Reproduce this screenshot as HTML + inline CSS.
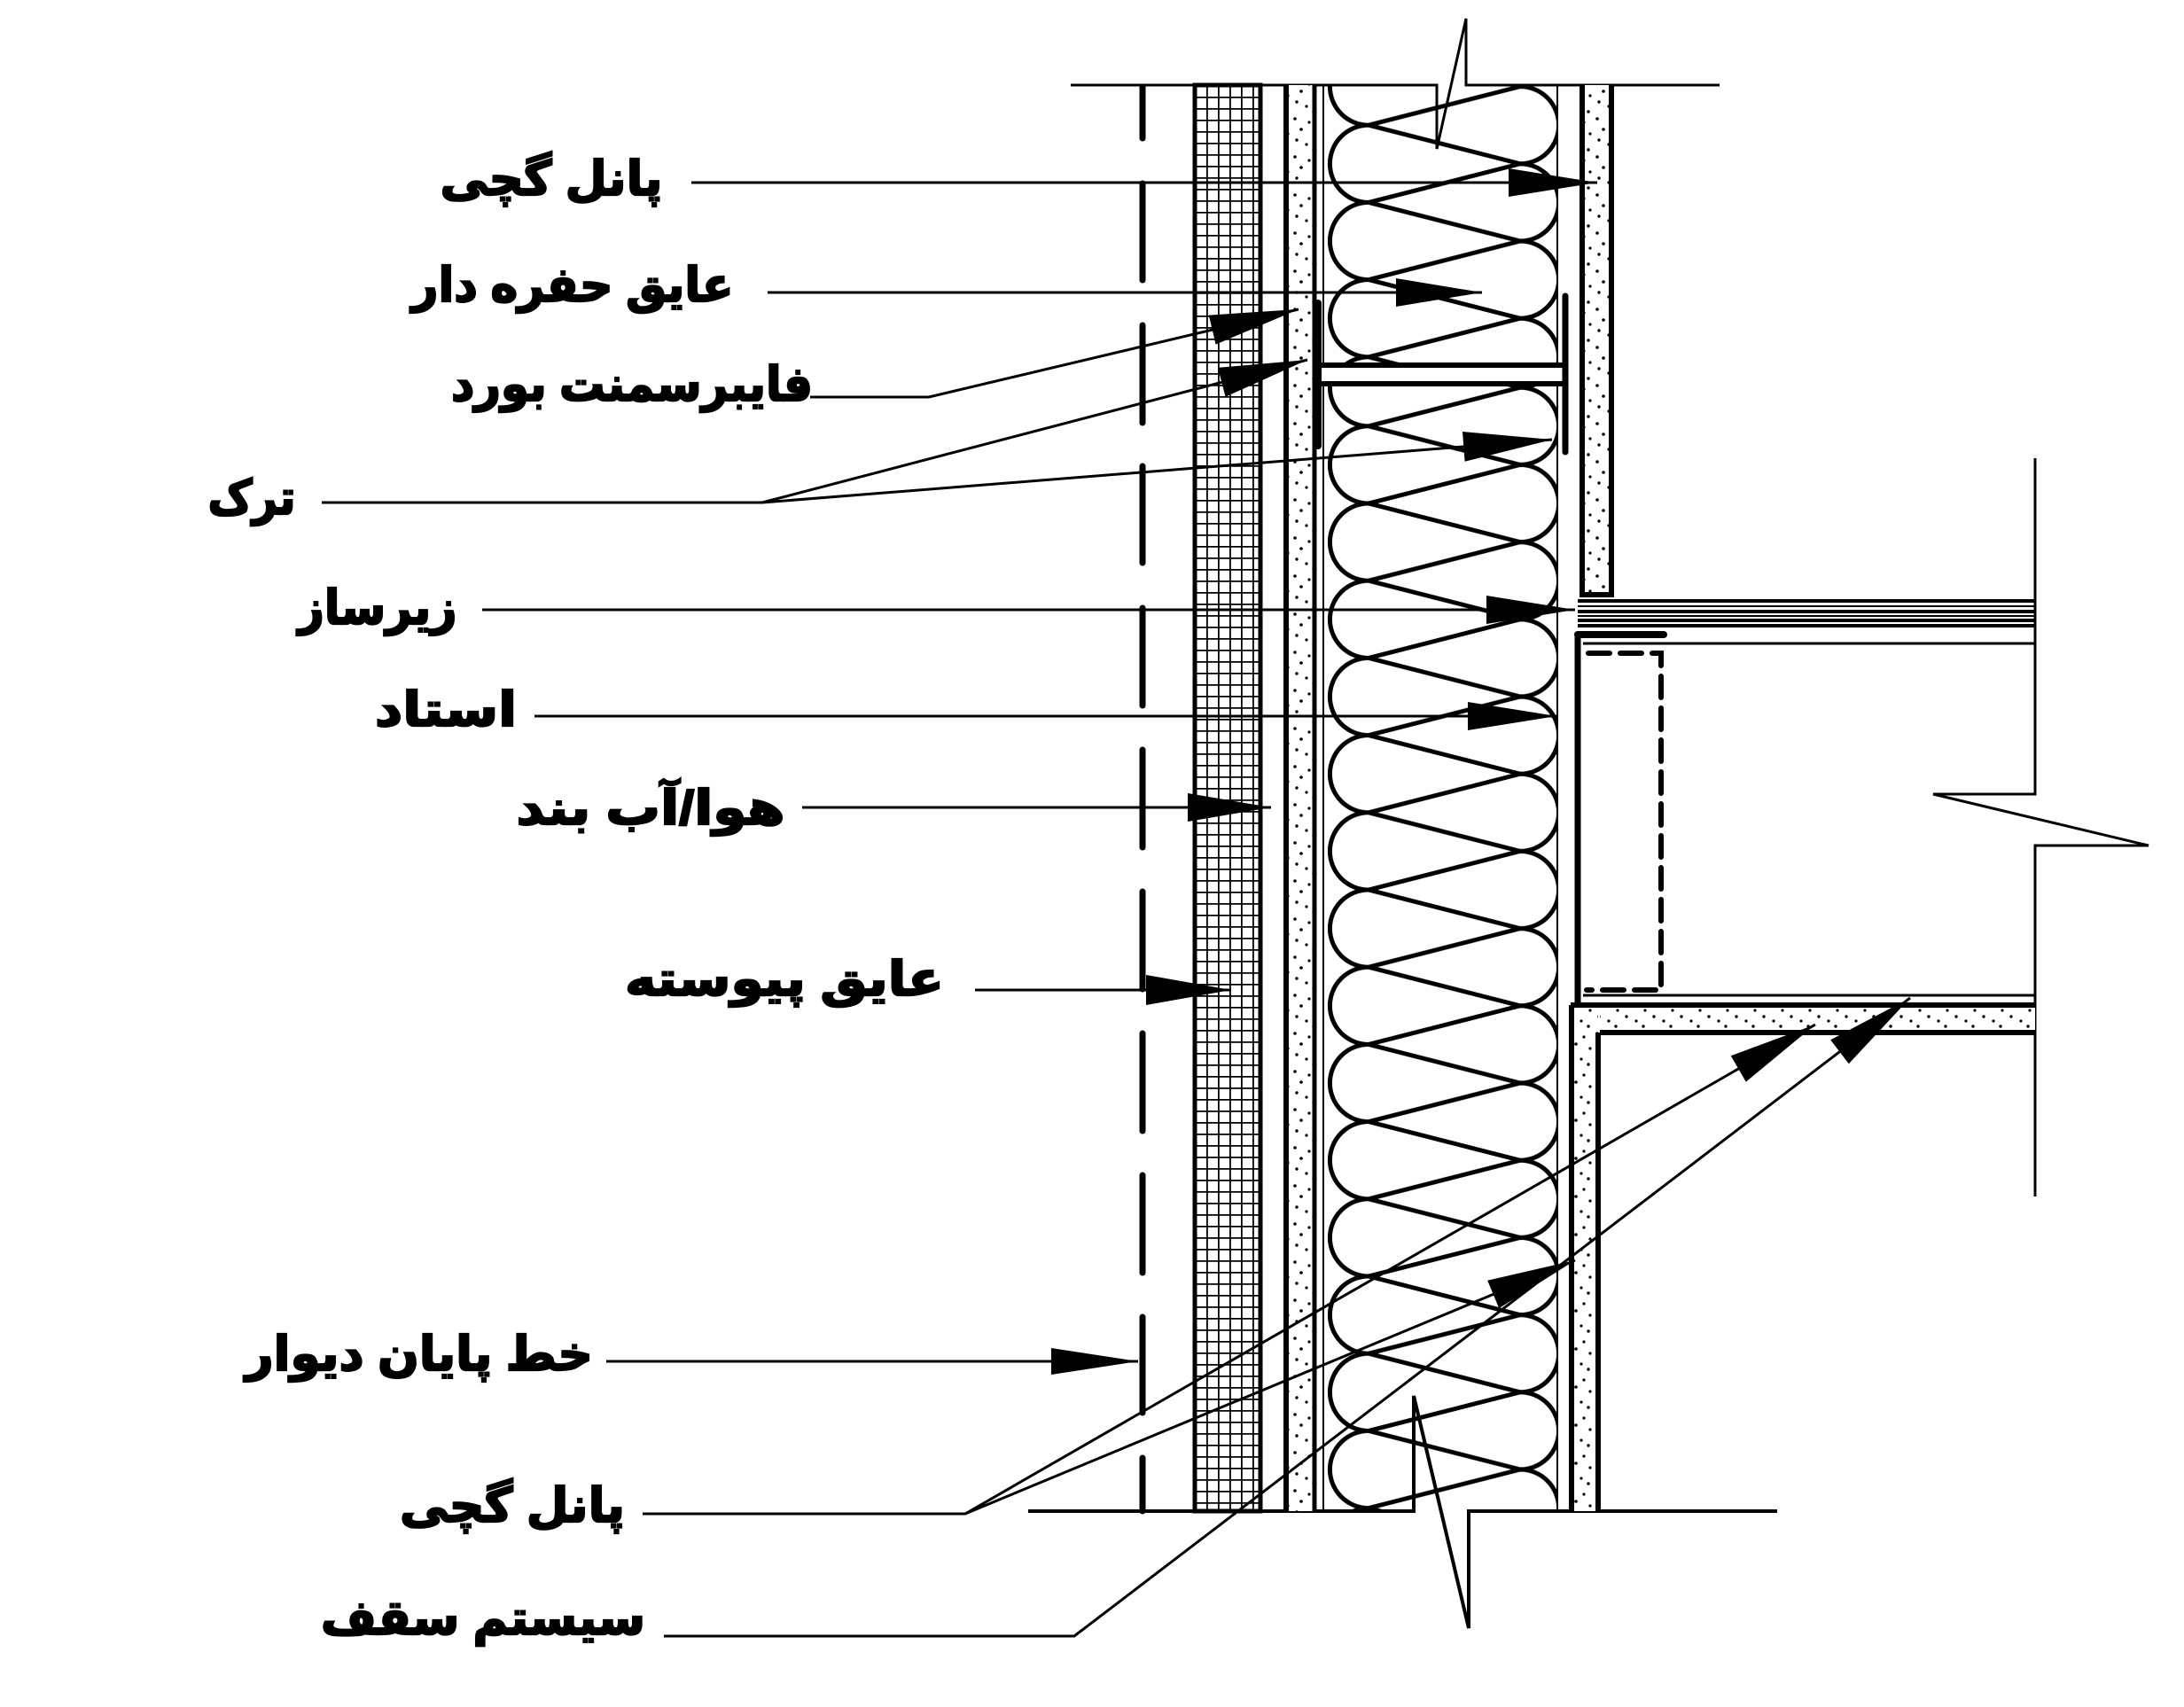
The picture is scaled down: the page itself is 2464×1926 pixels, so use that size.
<!DOCTYPE html>
<html><head><meta charset="utf-8">
<style>
html,body{margin:0;padding:0;background:#fff;}
svg{display:block;}
text{font-family:"Liberation Sans","DejaVu Sans",sans-serif;font-weight:bold;font-size:54px;fill:#000;stroke:#000;stroke-width:2.2px;}
</style></head>
<body>
<svg width="2464" height="1926" viewBox="0 0 2464 1926" xmlns="http://www.w3.org/2000/svg">
<defs>
  <pattern id="mesh" patternUnits="userSpaceOnUse" x="1348" y="96" width="13" height="13">
    <rect width="13" height="13" fill="#fff"/>
    <path d="M0,0 H13 M0,0 V13" stroke="#000" stroke-width="3.6" fill="none"/>
  </pattern>
  <pattern id="dots" patternUnits="userSpaceOnUse" width="31" height="43">
    <rect width="31" height="43" fill="#fff"/>
    <g fill="#000">
      <circle cx="4" cy="5" r="1.8"/><circle cx="20" cy="9" r="1.6"/>
      <circle cx="11" cy="17" r="1.8"/><circle cx="27" cy="22" r="1.6"/>
      <circle cx="6" cy="29" r="1.7"/><circle cx="17" cy="34" r="1.6"/>
      <circle cx="25" cy="40" r="1.7"/>
    </g>
  </pattern>
  <pattern id="insA" patternUnits="userSpaceOnUse" x="1490" y="54" width="280" height="87.2">
    <g fill="none" stroke="#000" stroke-width="5">
      <path d="M54,0 A43.6,43.6 0 0 0 54,87.2"/>
      <path d="M225,-43.6 A43.6,43.6 0 0 1 225,43.6"/>
      <path d="M225,43.6 A43.6,43.6 0 0 1 225,130.8"/>
      <path d="M54,0 L225,43.6 L54,87.2"/>
    </g>
  </pattern>
  <pattern id="insB" patternUnits="userSpaceOnUse" x="1490" y="44.8" width="280" height="87.2">
    <g fill="none" stroke="#000" stroke-width="5">
      <path d="M54,0 A43.6,43.6 0 0 0 54,87.2"/>
      <path d="M225,-43.6 A43.6,43.6 0 0 1 225,43.6"/>
      <path d="M225,43.6 A43.6,43.6 0 0 1 225,130.8"/>
      <path d="M54,0 L225,43.6 L54,87.2"/>
    </g>
  </pattern>
</defs>

<rect x="1494" y="96" width="262" height="316" fill="url(#insA)"/>
<rect x="1494" y="433" width="262" height="1272" fill="url(#insB)"/>

<path d="M1208,96 H1621 V168 L1654,21 V96 H1940" fill="none" stroke="#000" stroke-width="3"/>
<path d="M1160,1705 H1595 V1575 L1657,1837 V1705 H2005" fill="none" stroke="#000" stroke-width="4"/>

<g stroke="#000" stroke-width="7" stroke-linecap="round">
  <line x1="1289" y1="98" x2="1289" y2="156"/>
  <line x1="1289" y1="207" x2="1289" y2="316"/>
  <line x1="1289" y1="367" x2="1289" y2="477"/>
  <line x1="1289" y1="526" x2="1289" y2="635"/>
  <line x1="1289" y1="686" x2="1289" y2="796"/>
  <line x1="1289" y1="846" x2="1289" y2="956"/>
  <line x1="1289" y1="1006" x2="1289" y2="1116"/>
  <line x1="1289" y1="1166" x2="1289" y2="1276"/>
  <line x1="1289" y1="1326" x2="1289" y2="1436"/>
  <line x1="1289" y1="1486" x2="1289" y2="1594"/>
  <line x1="1289" y1="1645" x2="1289" y2="1705"/>
</g>

<rect x="1348" y="96" width="74" height="1609" fill="url(#mesh)" stroke="#000" stroke-width="5"/>

<rect x="1451" y="96" width="32" height="1609" fill="url(#dots)"/>
<line x1="1451" y1="96" x2="1451" y2="1705" stroke="#000" stroke-width="6"/>
<line x1="1483" y1="96" x2="1483" y2="1705" stroke="#000" stroke-width="5"/>
<line x1="1493" y1="96" x2="1493" y2="1705" stroke="#000" stroke-width="2"/>
<line x1="1757" y1="96" x2="1757" y2="1705" stroke="#000" stroke-width="2"/>

<rect x="1486" y="412" width="280" height="21" fill="#fff"/>
<line x1="1487" y1="412" x2="1768" y2="412" stroke="#000" stroke-width="6"/>
<line x1="1487" y1="433" x2="1768" y2="433" stroke="#000" stroke-width="6"/>
<line x1="1487" y1="342" x2="1487" y2="503" stroke="#000" stroke-width="8" stroke-linecap="round"/>
<line x1="1766" y1="334" x2="1766" y2="510" stroke="#000" stroke-width="7" stroke-linecap="round"/>

<rect x="1785" y="96" width="33" height="575" fill="url(#dots)"/>
<path d="M1785,96 V671 H1818 V96" fill="none" stroke="#000" stroke-width="6"/>

<g stroke="#000">
  <line x1="1780" y1="678" x2="2296" y2="678" stroke-width="4"/>
  <line x1="1780" y1="684" x2="2296" y2="684" stroke-width="2"/>
  <line x1="1780" y1="690" x2="2296" y2="690" stroke-width="4"/>
  <line x1="1780" y1="695" x2="2296" y2="695" stroke-width="2"/>
  <line x1="1780" y1="700" x2="2296" y2="700" stroke-width="4"/>
  <line x1="1780" y1="706" x2="2296" y2="706" stroke-width="4"/>
  <line x1="1780" y1="716" x2="1877" y2="716" stroke-width="8" stroke-linecap="round"/>
  <line x1="1780" y1="716" x2="1780" y2="1134" stroke-width="7"/>
  <line x1="1786" y1="726" x2="2296" y2="726" stroke-width="3"/>
</g>
<path d="M1792,737 H1874 V1117 H1790" fill="none" stroke="#000" stroke-width="6" stroke-dasharray="24,12" stroke-linecap="round"/>
<path d="M2296,517 V896 H2181 L2424,954 H2296 V1350" fill="none" stroke="#000" stroke-width="3"/>

<line x1="1786" y1="1123" x2="2296" y2="1123" stroke="#000" stroke-width="3"/>
<rect x="1805" y="1134" width="491" height="31" fill="url(#dots)"/>
<line x1="1772" y1="1134" x2="2296" y2="1134" stroke="#000" stroke-width="6"/>
<line x1="1805" y1="1165" x2="2296" y2="1165" stroke="#000" stroke-width="6"/>
<rect x="1773" y="1137" width="30" height="568" fill="url(#dots)"/>
<path d="M1773,1705 V1134 M1803,1165 V1705" fill="none" stroke="#000" stroke-width="6"/>

<g fill="none" stroke="#000" stroke-width="3">
  <path d="M780,206 H1802"/>
  <path d="M866,330 H1672"/>
  <path d="M914,448 H1048 L1465,349"/>
  <path d="M363,567 H860 L1475,406 M860,567 L1751,496"/>
  <path d="M544,688 H1777"/>
  <path d="M603,808 H1756"/>
  <path d="M905,911 H1434"/>
  <path d="M1100,1117 H1389"/>
  <path d="M684,1536 H1284"/>
  <path d="M725,1708 H1089 L2048,1156 M1089,1708 L1777,1422"/>
  <path d="M749,1846 H1212 L2155,1126"/>
</g>
<g fill="#000">
  <polygon points="1802,206 1702,190 1702,222"/>
  <polygon points="1672,330 1575,314 1575,346"/>
  <polygon points="1465,349 1371.6,388.6 1363.8,355.6"/>
  <polygon points="1475,406 1382.6,447.7 1374,414.9"/>
  <polygon points="1751,496 1652.6,520.8 1650,487"/>
  <polygon points="1777,688 1677,672 1677,704"/>
  <polygon points="1756,808 1656,792 1656,824"/>
  <polygon points="1434,911 1340,895 1340,927"/>
  <polygon points="1389,1117 1293,1100 1293,1134"/>
  <polygon points="1284,1536 1186,1521 1186,1551"/>
  <polygon points="1777,1422 1691.2,1476.1 1678.2,1444.7"/>
  <polygon points="2048,1156 1969.8,1220.6 1952.8,1191.2"/>
  <polygon points="2155,1126 2085.8,1200.2 2065.2,1173.2"/>
</g>

<text x="622" y="220" text-anchor="middle" textLength="251" lengthAdjust="spacingAndGlyphs">پانل گچی</text>
<text x="646" y="340" text-anchor="middle" textLength="363" lengthAdjust="spacingAndGlyphs">عایق حفره دار</text>
<text x="713" y="452" text-anchor="middle" textLength="408" lengthAdjust="spacingAndGlyphs">فایبرسمنت بورد</text>
<text x="284" y="580" text-anchor="middle" textLength="99" lengthAdjust="spacingAndGlyphs">ترک</text>
<text x="426" y="704" text-anchor="middle" textLength="179" lengthAdjust="spacingAndGlyphs">زیرساز</text>
<text x="503" y="819" text-anchor="middle" textLength="160" lengthAdjust="spacingAndGlyphs">استاد</text>
<text x="734" y="930" text-anchor="middle" textLength="303" lengthAdjust="spacingAndGlyphs">هوا/آب بند</text>
<text x="885" y="1123" text-anchor="middle" textLength="360" lengthAdjust="spacingAndGlyphs">عایق پیوسته</text>
<text x="473" y="1546" text-anchor="middle" textLength="392" lengthAdjust="spacingAndGlyphs">خط پایان دیوار</text>
<text x="578" y="1717" text-anchor="middle" textLength="254" lengthAdjust="spacingAndGlyphs">پانل گچی</text>
<text x="545" y="1844" text-anchor="middle" textLength="366" lengthAdjust="spacingAndGlyphs">سیستم سقف</text>
</svg>
</body></html>
